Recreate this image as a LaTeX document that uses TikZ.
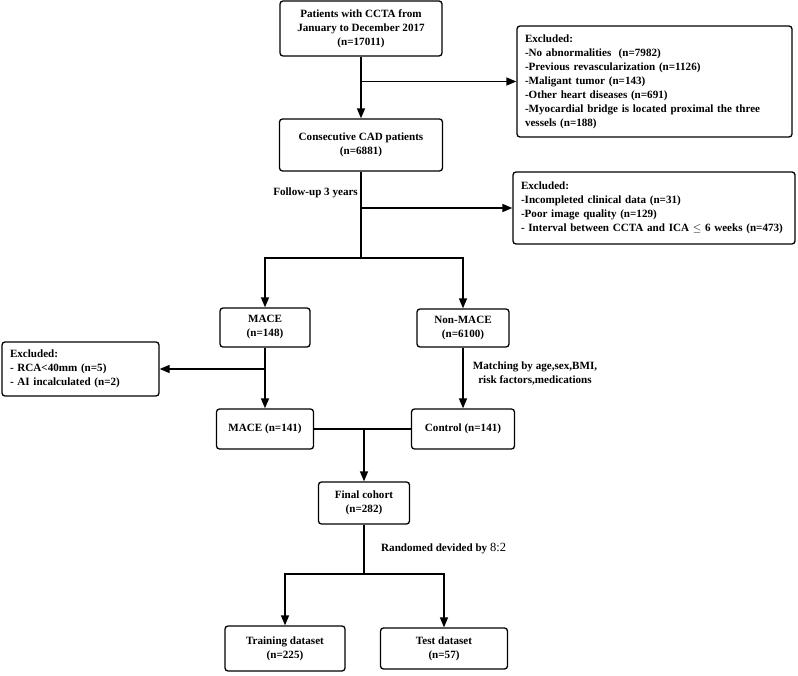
\documentclass[tikz,border=0pt]{standalone}
\usepackage{fontspec}
\setmainfont{Liberation Serif}
\usetikzlibrary{arrows.meta}
\begin{document}
\begin{tikzpicture}[x=1pt,y=-1pt,
  box/.style={draw, line width=1.3pt, rounded corners=3pt, align=center, inner sep=0pt,
    font=\fontsize{11.1}{14}\selectfont\bfseries},
  exbox/.style={box, align=left, inner xsep=8pt},
  conn/.style={line width=1.4pt},
  arr/.style={conn, -{Triangle[length=10pt,width=8pt]}},
  lbl/.style={font=\fontsize{11.1}{14}\selectfont\bfseries, inner sep=0pt}]
\useasboundingbox (0,0) rectangle (798,676);
\node[box, minimum width=162pt, minimum height=55pt] (top) at (361,28.5)
  {Patients with CCTA from\\January to December 2017\\(n=17011)};
\node[exbox, minimum width=275pt, minimum height=111pt, text width=259pt] (ex1) at (654.5,81.5)
  {Excluded:\\-No abnormalities~ (n=7982)\\-Previous revascularization (n=1126)\\-Maligant tumor (n=143)\\-Other heart diseases (n=691)\\-Myocardial bridge is located proximal the three\\vessels (n=188)};
\node[box, minimum width=163pt, minimum height=52pt] (cad) at (361,145)
  {Consecutive CAD patients\\(n=6881)};
\node[exbox, minimum width=282pt, minimum height=72pt, text width=266pt] (ex2) at (654,208)
  {Excluded:\\-Incompleted clinical data (n=31)\\-Poor image quality (n=129)\\- Interval between CCTA and ICA \raisebox{0.5pt}{$\leq$} 6 weeks (n=473)};
\node[box, minimum width=90pt, minimum height=39pt] (mace1) at (265,327.5) {MACE\\(n=148)};
\node[box, minimum width=92pt, minimum height=38pt] (nonmace) at (463,328) {Non-MACE\\(n=6100)};
\node[exbox, minimum width=157pt, minimum height=54pt, text width=141pt] (exl) at (80.5,369)
  {Excluded:\\- RCA<40mm (n=5)\\- AI incalculated (n=2)};
\node[box, minimum width=97pt, minimum height=40pt] (mace2) at (265,429) {MACE (n=141)};
\node[box, minimum width=103pt, minimum height=40pt] (control) at (463,429) {Control (n=141)};
\node[box, minimum width=91pt, minimum height=42pt] (final) at (364,503) {Final cohort\\(n=282)};
\node[box, minimum width=120pt, minimum height=45pt] (train) at (285,648.5) {Training dataset\\(n=225)};
\node[box, minimum width=127pt, minimum height=41pt] (test) at (444,648.5) {Test dataset\\(n=57)};
% labels
\node[lbl, anchor=east] (lfu) at (358,193) {Follow-up 3 years};
\node[lbl, align=center] (lmatch) at (535,373.5) {Matching by age,sex,BMI,\\risk factors,medications};
\node[lbl, anchor=west] (lrand) at (381,549) {Randomed devided by {\mdseries\fontsize{12.5}{14}\selectfont 8:2}};
% junctions
\coordinate (j1) at (top.south |- ex1.west);
\coordinate (j2) at (cad.south |- ex2.west);
\coordinate (j3) at (361,258);
\coordinate (j3l) at (mace1.north |- j3);
\coordinate (j3r) at (nonmace.north |- j3);
\coordinate (j4) at (mace1.south |- exl.east);
\coordinate (j5) at (final.north |- mace2.east);
\coordinate (j6) at (final.south |- 0,574);
\coordinate (j6l) at (train.north |- j6);
\coordinate (j6r) at (test.north |- j6);
% connectors
\draw[arr] (top.south) -- (cad.north);
\draw[arr] (j1) -- (ex1.west);
\draw[conn] (cad.south) -- (j3);
\draw[arr] (j2) -- (ex2.west);
\draw[arr] (j3) -- (j3l) -- (mace1.north);
\draw[arr] (j3) -- (j3r) -- (nonmace.north);
\draw[arr] (mace1.south) -- (mace2.north);
\draw[arr] (j4) -- (exl.east);
\draw[arr] (nonmace.south) -- (control.north);
\draw[conn] (mace2.east) -- (control.west);
\draw[arr] (j5) -- (final.north);
\draw[conn] (final.south) -- (j6);
\draw[arr] (j6) -- (j6l) -- (train.north);
\draw[arr] (j6) -- (j6r) -- (test.north);
\end{tikzpicture}
\end{document}
